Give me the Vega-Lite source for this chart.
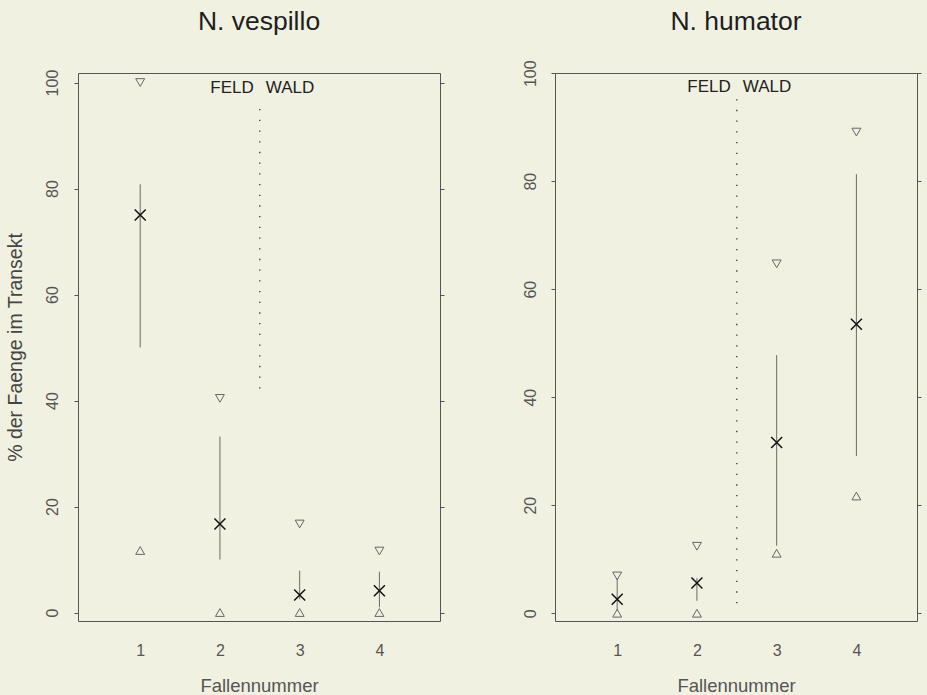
{
  "$schema": "https://vega.github.io/schema/vega-lite/v6.json",
  "background": "#f1f1e1",
  "autosize": {"type": "pad"},
  "padding": {"left": 4, "top": 8, "right": 5, "bottom": 0},
  "config": {
    "font": "Liberation Sans",
    "view": {"stroke": "#555", "strokeWidth": 1},
    "concat": {"spacing": 115}
  },
  "bounds": "flush",
  "datasets": {
    "d": [
      {"sp": "N. vespillo", "kind": "max", "trap": 1, "v": 100},
      {"sp": "N. vespillo", "kind": "max", "trap": 2, "v": 40.4},
      {"sp": "N. vespillo", "kind": "max", "trap": 3, "v": 16.7},
      {"sp": "N. vespillo", "kind": "max", "trap": 4, "v": 11.6},
      {"sp": "N. vespillo", "kind": "min", "trap": 1, "v": 11.7},
      {"sp": "N. vespillo", "kind": "min", "trap": 2, "v": 0},
      {"sp": "N. vespillo", "kind": "min", "trap": 3, "v": 0},
      {"sp": "N. vespillo", "kind": "min", "trap": 4, "v": 0},
      {"sp": "N. vespillo", "kind": "mid", "trap": 1, "v": 75},
      {"sp": "N. vespillo", "kind": "mid", "trap": 2, "v": 16.7},
      {"sp": "N. vespillo", "kind": "mid", "trap": 3, "v": 3.3},
      {"sp": "N. vespillo", "kind": "mid", "trap": 4, "v": 4.1},
      {"sp": "N. vespillo", "kind": "bar", "trap": 1, "v": 80.8, "v2": 50},
      {"sp": "N. vespillo", "kind": "bar", "trap": 2, "v": 33.2, "v2": 10},
      {"sp": "N. vespillo", "kind": "bar", "trap": 3, "v": 7.9, "v2": 2.5},
      {"sp": "N. vespillo", "kind": "bar", "trap": 4, "v": 7.7, "v2": 1},
      {"sp": "N. vespillo", "kind": "div", "trap": 2.5, "v": 95, "v2": 42},
      {"sp": "N. vespillo", "kind": "FELD", "trap": 2.5, "v": 98.1},
      {"sp": "N. vespillo", "kind": "WALD", "trap": 2.5, "v": 98.1},
      {"sp": "N. humator", "kind": "max", "trap": 1, "v": 6.9},
      {"sp": "N. humator", "kind": "max", "trap": 2, "v": 12.4},
      {"sp": "N. humator", "kind": "max", "trap": 3, "v": 64.7},
      {"sp": "N. humator", "kind": "max", "trap": 4, "v": 89.1},
      {"sp": "N. humator", "kind": "min", "trap": 1, "v": 0},
      {"sp": "N. humator", "kind": "min", "trap": 2, "v": 0},
      {"sp": "N. humator", "kind": "min", "trap": 3, "v": 11.1},
      {"sp": "N. humator", "kind": "min", "trap": 4, "v": 21.7},
      {"sp": "N. humator", "kind": "mid", "trap": 1, "v": 2.6},
      {"sp": "N. humator", "kind": "mid", "trap": 2, "v": 5.6},
      {"sp": "N. humator", "kind": "mid", "trap": 3, "v": 31.6},
      {"sp": "N. humator", "kind": "mid", "trap": 4, "v": 53.5},
      {"sp": "N. humator", "kind": "bar", "trap": 1, "v": 6.5, "v2": 0.5},
      {"sp": "N. humator", "kind": "bar", "trap": 2, "v": 6.5, "v2": 2.3},
      {"sp": "N. humator", "kind": "bar", "trap": 3, "v": 47.8, "v2": 12.5},
      {"sp": "N. humator", "kind": "bar", "trap": 4, "v": 81.3, "v2": 29.1},
      {"sp": "N. humator", "kind": "div", "trap": 2.5, "v": 95.2, "v2": 0.3},
      {"sp": "N. humator", "kind": "FELD", "trap": 2.5, "v": 96.6},
      {"sp": "N. humator", "kind": "WALD", "trap": 2.5, "v": 96.6}
    ]
  },
  "data": {"name": "d"},
  "hconcat": [
    {
      "width": 362,
      "height": 548,
      "title": {"text": "N. vespillo", "fontSize": 26.5, "fontWeight": "normal", "color": "#1e1e1e", "baseline": "alphabetic", "offset": 12.5, "anchor": "middle"},
      "transform": [{"filter": "datum.sp === 'N. vespillo'"}],
      "encoding": {
        "x": {"field": "trap", "type": "quantitative", "scale": {"domain": [0.22, 4.76], "nice": false, "zero": false},
          "axis": {"values": [1, 2, 3, 4], "format": "d", "ticks": false, "domain": false, "grid": false, "labelFontSize": 16, "labelColor": "#555", "labelBaseline": "alphabetic", "labelPadding": 34, "labelFlush": false, "title": "Fallennummer", "titleFontSize": 18.5, "titleFontWeight": "normal", "titleColor": "#555", "titlePadding": 18}},
        "y": {"field": "v", "type": "quantitative", "scale": {"domain": [-1.6, 101.8], "nice": false, "zero": false}, "axis": null}
      },
      "resolve": {"axis": {"y": "independent"}},
      "layer": [
        {"transform": [{"filter": "datum.kind === 'div'"}], "mark": {"type": "rule", "strokeDash": [1.3, 9.4], "color": "#333", "strokeWidth": 1.3}, "encoding": {"y2": {"field": "v2"}}},
        {"transform": [{"filter": "datum.kind === 'bar'"}], "mark": {"type": "rule", "color": "#6a6a6a", "strokeWidth": 1},
          "encoding": {
            "y": {"field": "v", "type": "quantitative", "scale": {"domain": [-1.6, 101.8], "nice": false, "zero": false},
              "axis": {"orient": "left", "values": [0, 20, 40, 60, 80, 100], "tickSize": 4, "tickColor": "#555", "domain": false, "grid": false, "labelAngle": 270, "labelAlign": "center", "labelBaseline": "alphabetic", "labelPadding": 17, "labelFontSize": 16, "labelColor": "#555", "labelFlush": false, "labelOverlap": false, "title": "% der Faenge im Transekt", "titleFontSize": 19.5, "titleFontWeight": "normal", "titleColor": "#444", "titlePadding": 19}},
            "y2": {"field": "v2"}}},
        {"transform": [{"filter": "datum.kind === 'max'"}], "mark": {"type": "point", "shape": "triangle-down", "filled": false, "color": "#666", "strokeWidth": 1, "size": 80, "opacity": 1}},
        {"transform": [{"filter": "datum.kind === 'min'"}], "mark": {"type": "point", "shape": "triangle-up", "filled": false, "color": "#666", "strokeWidth": 1, "size": 80, "opacity": 1}},
        {"transform": [{"filter": "datum.kind === 'mid'"}], "mark": {"type": "point", "shape": "M-1,-1L1,1M-1,1L1,-1", "filled": false, "color": "#111", "strokeWidth": 1.5, "size": 121, "opacity": 1},
          "encoding": {
            "y": {"field": "v", "type": "quantitative", "scale": {"domain": [-1.6, 101.8], "nice": false, "zero": false},
              "axis": {"orient": "right", "values": [0, 20, 40, 60, 80, 100], "tickSize": 4, "tickColor": "#555", "labels": false, "domain": false, "grid": false, "title": null}}}},
        {"transform": [{"filter": "datum.kind === 'FELD'"}], "mark": {"type": "text", "align": "right", "dx": -6, "baseline": "alphabetic", "fontSize": 17, "color": "#222"}, "encoding": {"text": {"field": "kind"}}},
        {"transform": [{"filter": "datum.kind === 'WALD'"}], "mark": {"type": "text", "align": "left", "dx": 6, "baseline": "alphabetic", "fontSize": 17, "color": "#222"}, "encoding": {"text": {"field": "kind"}}}
      ]
    },
    {
      "width": 362,
      "height": 548,
      "title": {"text": "N. humator", "fontSize": 26.5, "fontWeight": "normal", "color": "#1e1e1e", "baseline": "alphabetic", "offset": 3.5, "anchor": "middle"},
      "transform": [{"filter": "datum.sp === 'N. humator'"}],
      "encoding": {
        "x": {"field": "trap", "type": "quantitative", "scale": {"domain": [0.22, 4.76], "nice": false, "zero": false},
          "axis": {"values": [1, 2, 3, 4], "format": "d", "ticks": false, "domain": false, "grid": false, "labelFontSize": 16, "labelColor": "#555", "labelBaseline": "alphabetic", "labelPadding": 34, "labelFlush": false, "title": "Fallennummer", "titleFontSize": 18.5, "titleFontWeight": "normal", "titleColor": "#555", "titlePadding": 18}},
        "y": {"field": "v", "type": "quantitative", "scale": {"domain": [-1.44, 100.04], "nice": false, "zero": false}, "axis": null}
      },
      "resolve": {"axis": {"y": "independent"}},
      "layer": [
        {"transform": [{"filter": "datum.kind === 'div'"}], "mark": {"type": "rule", "strokeDash": [1.3, 9.4], "color": "#333", "strokeWidth": 1.3}, "encoding": {"y2": {"field": "v2"}}},
        {"transform": [{"filter": "datum.kind === 'bar'"}], "mark": {"type": "rule", "color": "#6a6a6a", "strokeWidth": 1},
          "encoding": {
            "y": {"field": "v", "type": "quantitative", "scale": {"domain": [-1.44, 100.04], "nice": false, "zero": false},
              "axis": {"orient": "left", "values": [0, 20, 40, 60, 80, 100], "tickSize": 4, "tickColor": "#555", "domain": false, "grid": false, "labelAngle": 270, "labelAlign": "center", "labelBaseline": "alphabetic", "labelPadding": 16, "labelFontSize": 16, "labelColor": "#555", "labelFlush": false, "labelOverlap": false, "title": null}},
            "y2": {"field": "v2"}}},
        {"transform": [{"filter": "datum.kind === 'max'"}], "mark": {"type": "point", "shape": "triangle-down", "filled": false, "color": "#666", "strokeWidth": 1, "size": 80, "opacity": 1}},
        {"transform": [{"filter": "datum.kind === 'min'"}], "mark": {"type": "point", "shape": "triangle-up", "filled": false, "color": "#666", "strokeWidth": 1, "size": 80, "opacity": 1}},
        {"transform": [{"filter": "datum.kind === 'mid'"}], "mark": {"type": "point", "shape": "M-1,-1L1,1M-1,1L1,-1", "filled": false, "color": "#111", "strokeWidth": 1.5, "size": 121, "opacity": 1},
          "encoding": {
            "y": {"field": "v", "type": "quantitative", "scale": {"domain": [-1.44, 100.04], "nice": false, "zero": false},
              "axis": {"orient": "right", "values": [0, 20, 40, 60, 80, 100], "tickSize": 4, "tickColor": "#555", "labels": false, "domain": false, "grid": false, "title": null}}}},
        {"transform": [{"filter": "datum.kind === 'FELD'"}], "mark": {"type": "text", "align": "right", "dx": -6, "baseline": "alphabetic", "fontSize": 17, "color": "#222"}, "encoding": {"text": {"field": "kind"}}},
        {"transform": [{"filter": "datum.kind === 'WALD'"}], "mark": {"type": "text", "align": "left", "dx": 6, "baseline": "alphabetic", "fontSize": 17, "color": "#222"}, "encoding": {"text": {"field": "kind"}}}
      ]
    }
  ]
}
